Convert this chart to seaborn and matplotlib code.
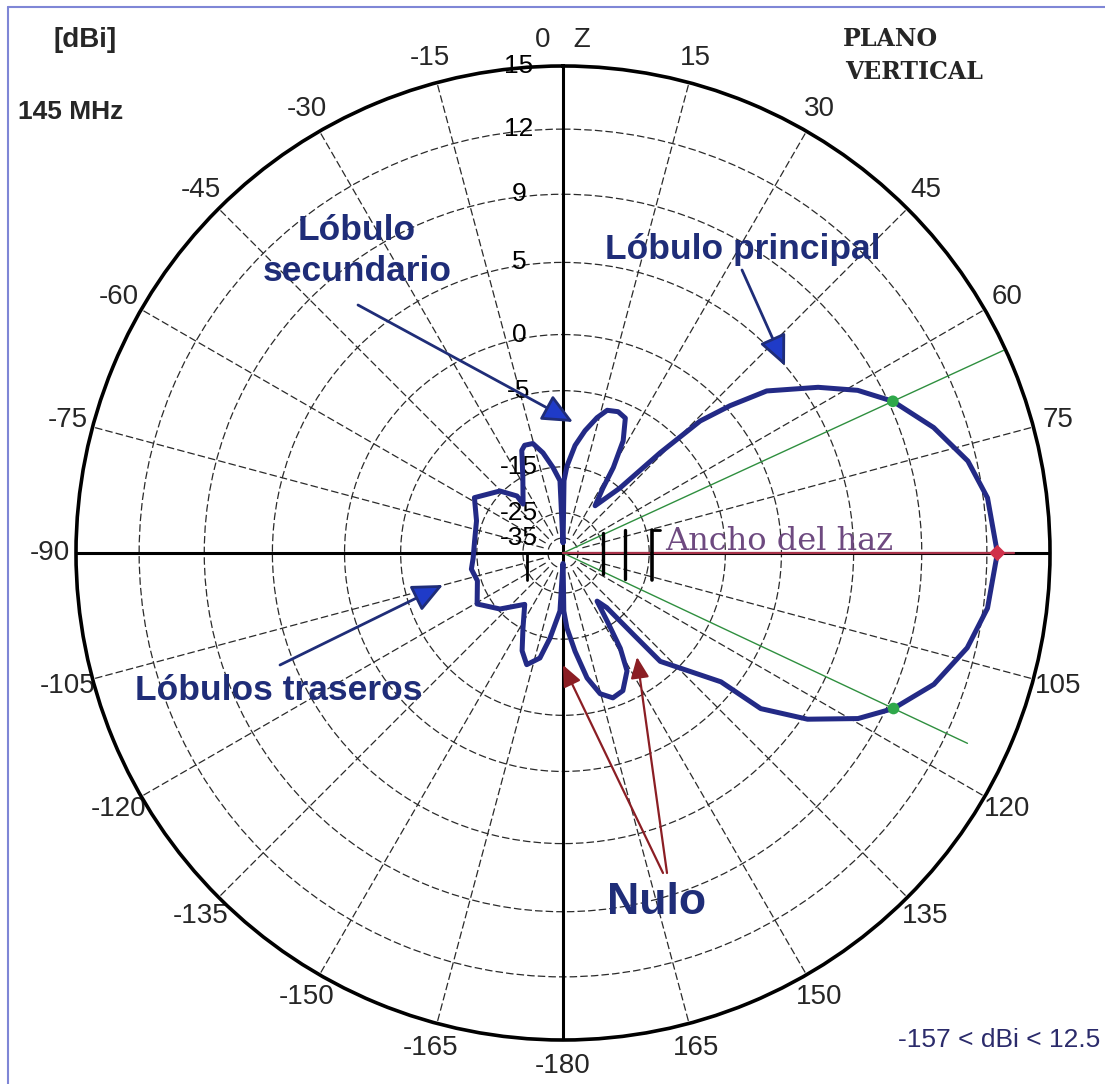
import numpy as np
import pandas as pd
import matplotlib
matplotlib.use("Agg")
import matplotlib.pyplot as plt
import seaborn as sns
from matplotlib.lines import Line2D

# escala radial del diagrama (dBi -> radio en pixeles del grafico original)
ring_db = [-45, -35, -25, -15, -5, 0, 5, 9, 12, 15]
ring_px = [0, 15, 40, 86, 162, 218, 290, 358, 423, 486]
grid_db = [-35, -25, -15, -5, 0, 5, 9, 12]
grid_labels = ["-35", "-25", "-15", "-5", "0", "5", "9", "12", "15"]
label_db = [-35, -25, -15, -5, 0, 5, 9, 12, 15]

# angulos del plano vertical (0 = Z, sentido horario)
theta_ticks = list(range(0, 360, 15))
theta_labels = ["0   Z", "15", "30", "45", "60", "75", "", "105", "120", "135",
                "150", "165", "-180", "-165", "-150", "-135", "-120", "-105",
                "-90", "-75", "-60", "-45", "-30", "-15"]

# diagrama de radiacion (grados, dBi)
pat_deg = [0.5, 0.8, 2.6, 6.4, 10.2, 14.1, 17.2, 21.3, 24.8, 28.2, 30.5, 31.6,
           34.2, 41.2, 44.1, 46.1, 48.6, 51.5, 57.0, 61.1, 65.3, 71.3, 77.2,
           82.6, 90.0, 97.4, 103.2, 109.5, 115.2, 119.3, 124.2, 128.2, 129.2,
           138.1, 139.2, 141.3, 144.7, 147.1, 149.0, 151.5, 156.5, 161.0,
           165.2, 169.1, 173.0, 177.0, 179.2, 179.6, 180.4, 183.0, 188.7,
           192.4, 198.0, 202.7, 208.0, 216.7, 228.4, 239.3, 252.0, 260.0,
           266.8, 277.8, 290.4, 302.0, 314.5, 321.1, 320.8, 331.9, 338.1,
           340.4, 344.6, 348.7, 353.3, 357.6, 359.5]
pat_db = [-38, -18.0, -14.9, -12.1, -10.0, -8.0, -6.7, -6.4, -6.8, -9.6, -13.3,
          -17.2, -21.3, -15.0, -8.0, -2.5, 0.3, 2.9, 5.8, 7.7, 9.2, 10.5, 11.6,
          12.2, 12.5, 12.2, 11.6, 10.6, 9.3, 7.8, 5.3, 2.3, -1.3, -7.2, -12.2,
          -18.5, -20.9, -15.9, -11.7, -8.7, -6.6, -6.2, -7.2, -9.6, -13.3,
          -17.4, -21.1, -38, -38, -21.1, -15.0, -12.2, -10.9, -12.4, -15.2,
          -19.8, -15.4, -13.2, -14.5, -14.1, -14.5, -14.6, -14.2, -12.6, -14.7,
          -17.8, -20.0, -15.2, -11.8, -11.3, -11.4, -12.9, -15.0, -18.0, -38]

# ancho del haz (puntos de media potencia) y maximo
hp_deg = [65.3, 115.2]
hp_db = [9.2, 9.3]
hp_line_db = [14.9, 13.1]
max_deg = [90.0]
max_db = [12.5]

sns.set_style("white")
plt.rcParams['font.family'] = ['Liberation Sans', 'DejaVu Sans']

W, H = 1105, 1084
fig = plt.figure(figsize=(W / 100, H / 100), dpi=100)


def fxy(x, y):
    # pixeles de la imagen (origen arriba-izquierda) -> fraccion de figura
    return x / W, 1 - y / H


cx, cy, R = 563, 553, 487
ax = fig.add_axes([(cx - R) / W, (H - cy - R) / H, 2 * R / W, 2 * R / H],
                  projection='polar')
ax.set_theta_zero_location('N')
ax.set_theta_direction(-1)
ax.set_rscale('function', functions=(lambda v: np.interp(v, ring_db, ring_px),
                                     lambda v: np.interp(v, ring_px, ring_db)))
ax.set_rlim(-45, 15)
ax.set_rgrids(grid_db, labels=[""] * len(grid_db))
ax.set_thetagrids(theta_ticks, labels=theta_labels, fontsize=20)
ax.tick_params(axis='x', pad=8)
dash = (0, (6, 2.5))
ax.yaxis.grid(True, color='#2a2a2a', linestyle=dash, linewidth=0.9)
ax.xaxis.grid(False)
ax.spines['polar'].set_linewidth(2.6)
ax.spines['polar'].set_color('black')

# radiales cada 15 grados (no llegan al centro)
for t in theta_ticks:
    if t % 90:
        ax.plot(np.deg2rad([t, t]), [-33, 15], color='#2a2a2a', lw=0.9, ls=dash)

# ejes principales
for t in [0, 90, 180, 270]:
    ax.plot(np.deg2rad([t, t]), [-45, 15], color='black', lw=2.2)

# etiquetas radiales
off = matplotlib.transforms.offset_copy(ax.transData, fig=fig, x=-44, y=0, units='dots')
for lv, lb in zip(label_db, grid_labels):
    ax.text(0, lv, lb, transform=off, ha='center', va='center', fontsize=19,
            color='black', zorder=3)

# lineas de ancho de haz
for d, top in zip(hp_deg, hp_line_db):
    ax.plot(np.deg2rad([d, d]), [-45, top], color='#2f8f3f', lw=1.0, zorder=4)
ax.plot(np.deg2rad([90, 90]), [-45, 13.3], color='#a8334a', lw=1.6, zorder=4)

df = pd.DataFrame({'theta': np.deg2rad(pat_deg + [pat_deg[0] + 360]),
                   'gain': pat_db + [pat_db[0]]})
sns.lineplot(data=df, x='theta', y='gain', ax=ax, sort=False, estimator=None,
             color='#232a86', lw=3.6, zorder=5)
sns.scatterplot(x=np.deg2rad(hp_deg), y=hp_db, ax=ax, color='#2fa84a', s=70,
                edgecolor='none', zorder=6)
sns.scatterplot(x=np.deg2rad(max_deg), y=max_db, ax=ax, color='#d0304a', marker='D',
                s=70, edgecolor='none', zorder=6)
ax.set_xlabel("")
ax.set_ylabel("")

# barras del ancho de haz
bars = [(603, 533, 574, 2.4), (625, 530, 579, 2.4), (652, 530, 580, 2.6), (527, 553, 580, 2.0)]
for x, y0, y1, lw in bars:
    fig.add_artist(Line2D([x / W, x / W], [1 - y0 / H, 1 - y1 / H], color='black', lw=lw,
                          transform=fig.transFigure))
fig.add_artist(Line2D([652 / W, 660 / W], [1 - 530 / H, 1 - 530 / H], color='black', lw=2,
                      transform=fig.transFigure))

# textos
navy = '#1f2d78'
fig.text(*fxy(85, 40), "[dBi]", fontsize=20, fontweight='bold', ha='center', va='center')
fig.text(*fxy(18, 112), "145 MHz", fontsize=19, fontweight='bold', ha='left', va='center')
fig.text(*fxy(843, 39), "PLANO", fontsize=17, fontweight='bold', ha='left', va='center',
         family='DejaVu Serif')
fig.text(*fxy(845, 72), "VERTICAL", fontsize=17, fontweight='bold', ha='left', va='center',
         family='DejaVu Serif')
fig.text(*fxy(1100, 1040), "-157 < dBi < 12.5", fontsize=19, color='#2b2b6b',
         ha='right', va='center')
fig.text(*fxy(357, 230), "Lóbulo", fontsize=25.5, fontweight='bold', color=navy,
         ha='center', va='center')
fig.text(*fxy(357, 272), "secundario", fontsize=25.5, fontweight='bold', color=navy,
         ha='center', va='center')
fig.text(*fxy(605, 250), "Lóbulo principal", fontsize=25.5, fontweight='bold', color=navy,
         ha='left', va='center')
fig.text(*fxy(135, 690), "Lóbulos traseros", fontsize=25.5, fontweight='bold', color=navy,
         ha='left', va='center')
fig.text(*fxy(607, 903), "Nulo", fontsize=32, fontweight='bold', color=navy,
         ha='left', va='center')
fig.text(*fxy(665, 541), "Ancho del haz", fontsize=23, color='#6e4a80',
         ha='left', va='center', family='DejaVu Serif', zorder=7)

# flechas
blue_arrows = [((358, 305), (573, 422)), ((742, 270), (785, 366)), ((280, 665), (443, 585))]
for start, tip in blue_arrows:
    ax.annotate("", xy=fxy(*tip), xytext=fxy(*start), xycoords='figure fraction',
                textcoords='figure fraction',
                arrowprops=dict(arrowstyle='-|>,head_length=1.1,head_width=0.5',
                                ec=navy, fc='#1f3bc8', lw=2, mutation_scale=17,
                                shrinkA=0, shrinkB=0))
red_arrows = [((663, 873), (563, 665)), ((667, 873), (637, 657))]
for start, tip in red_arrows:
    ax.annotate("", xy=fxy(*tip), xytext=fxy(*start), xycoords='figure fraction',
                textcoords='figure fraction',
                arrowprops=dict(arrowstyle='-|>,head_length=0.8,head_width=0.35',
                                color='#8b1e24', lw=1.6, mutation_scale=16,
                                shrinkA=0, shrinkB=0))

# marco
fig.add_artist(Line2D([8 / W, 1], [1 - 7 / H, 1 - 7 / H], color='#7f86d6', lw=1.5,
                      transform=fig.transFigure))
fig.add_artist(Line2D([8 / W, 8 / W], [0, 1 - 7 / H], color='#7f86d6', lw=1.5,
                      transform=fig.transFigure))

fig.savefig("out.png", dpi=100)
